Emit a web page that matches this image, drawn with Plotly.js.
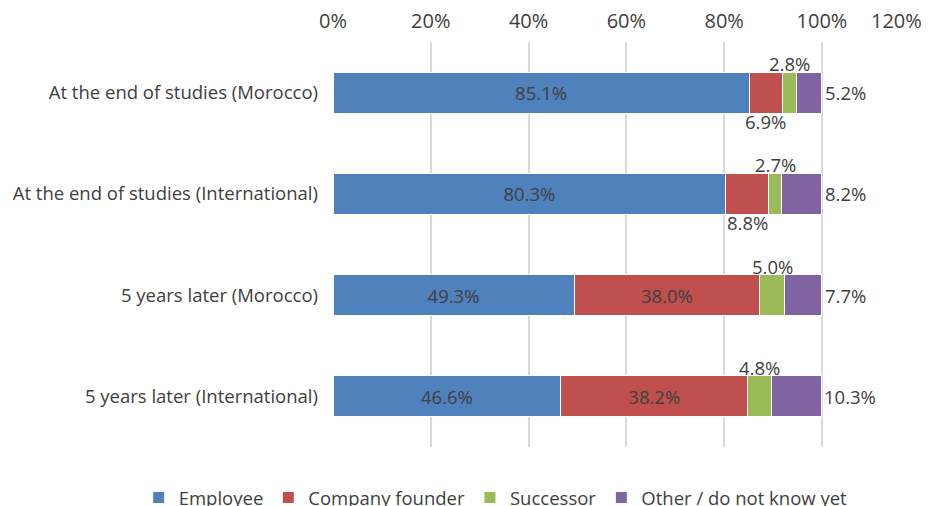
<!DOCTYPE html>
<html>
<head>
<meta charset="utf-8">
<script src="https://cdn.plot.ly/plotly-3.0.1.min.js"></script>
<style>
  html, body { margin: 0; padding: 0; background: #fff; }
  #chart { width: 938px; height: 506px; }
</style>
</head>
<body>
<div id="chart"></div>
<script>
// categories, top to bottom
const categories = [
    'At the end of studies (Morocco)',
    'At the end of studies (International)',
    '5 years later (Morocco)',
    '5 years later (International)'
];
// shares in percent
const employee = [85.1, 80.3, 49.3, 46.6];
const founder = [6.9, 8.8, 38.0, 38.2];
const successor = [2.8, 2.7, 5.0, 4.8];
const other = [5.2, 8.2, 7.7, 10.3];
const tickVals = [0, 0.2, 0.4, 0.6, 0.8, 1.0, 1.2];
const tickText = ['0%', '20%', '40%', '60%', '80%', '100%', '120%'];

const txtColor = '#404040';
const fnt = 'Open Sans, Lato, sans-serif';
const lblSize = 18.5;

function frac(a) { return a.map(v => v / 100); }
function pct(a) { return a.map(v => v.toFixed(1) + '%'); }

function bar(name, vals, color, showText) {
    return {
        type: 'bar',
        orientation: 'h',
        name: name,
        y: categories,
        x: frac(vals),
        marker: { color: color, line: { color: '#ffffff', width: 1 } },
        text: showText ? showText.map((s, i) => s ? pct(vals)[i] : '') : undefined,
        textposition: 'inside',
        insidetextanchor: 'middle',
        textfont: { family: fnt, size: lblSize, color: txtColor },
        hoverinfo: 'none'
    };
}

const traces = [
    bar('Employee', employee, '#4F81BD', [true, true, true, true]),
    // small founder shares get their label below the bar
    bar('Company founder', founder, '#C0504D', founder.map(v => v > 15)),
    bar('Successor', successor, '#9BBB59', null),
    bar('Other / do not know yet', other, '#8064A2', null)
];

const annotations = [];
categories.forEach((c, i) => {
    if (founder[i] <= 15) {
        annotations.push({
            x: (employee[i] + founder[i] / 2) / 100, y: c,
            text: pct(founder)[i], showarrow: false,
            yshift: -29, xanchor: 'center',
            font: { family: fnt, size: lblSize, color: txtColor }
        });
    }
    annotations.push({
        x: (employee[i] + founder[i] + successor[i] / 2) / 100, y: c,
        text: pct(successor)[i], showarrow: false,
        yshift: 29, xanchor: 'center',
        font: { family: fnt, size: lblSize, color: txtColor }
    });
    annotations.push({
        x: (employee[i] + founder[i] + successor[i] + other[i]) / 100, y: c,
        text: pct(other)[i], showarrow: false,
        xshift: 1, xanchor: 'left',
        font: { family: fnt, size: lblSize, color: txtColor }
    });
});

// last tick label is pulled inside the page, like the original
const lastTick = tickVals.length - 1;
annotations.push({
    x: tickVals[lastTick], y: 1, xref: 'x', yref: 'paper',
    text: tickText[lastTick], showarrow: false,
    xanchor: 'right', yanchor: 'bottom', xshift: 4, yshift: 6,
    font: { family: fnt, size: 20, color: txtColor }
});

const layout = {
    width: 938,
    height: 506,
    margin: { l: 333, r: 18, t: 42, b: 59, autoexpand: false },
    barmode: 'stack',
    bargap: 0.595,
    paper_bgcolor: '#ffffff',
    plot_bgcolor: '#ffffff',
    font: { family: fnt, color: txtColor },
    xaxis: {
        side: 'top',
        range: [0, 1.2005],
        tickvals: tickVals,
        ticktext: tickText.map((t, i) => i === lastTick ? '' : t),
        showgrid: true,
        gridcolor: '#d9d9d9',
        gridwidth: 2,
        zeroline: false,
        showline: false,
        ticks: '',
        ticklabelstandoff: 9,
        tickfont: { family: fnt, size: 20, color: txtColor }
    },
    yaxis: {
        autorange: 'reversed',
        showgrid: false,
        showline: false,
        zeroline: false,
        ticks: '',
        ticklabelstandoff: 14,
        tickfont: { family: fnt, size: 18.5, color: txtColor }
    },
    showlegend: true,
    legend: {
        orientation: 'h',
        x: -0.331, xanchor: 'left',
        y: -0.079, yanchor: 'top',
        font: { family: fnt, size: 18.5, color: txtColor },
        itemwidth: 30,
        traceorder: 'normal'
    },
    annotations: annotations
};

Plotly.newPlot('chart', traces, layout, { displayModeBar: false, staticPlot: true });
</script>
</body>
</html>
